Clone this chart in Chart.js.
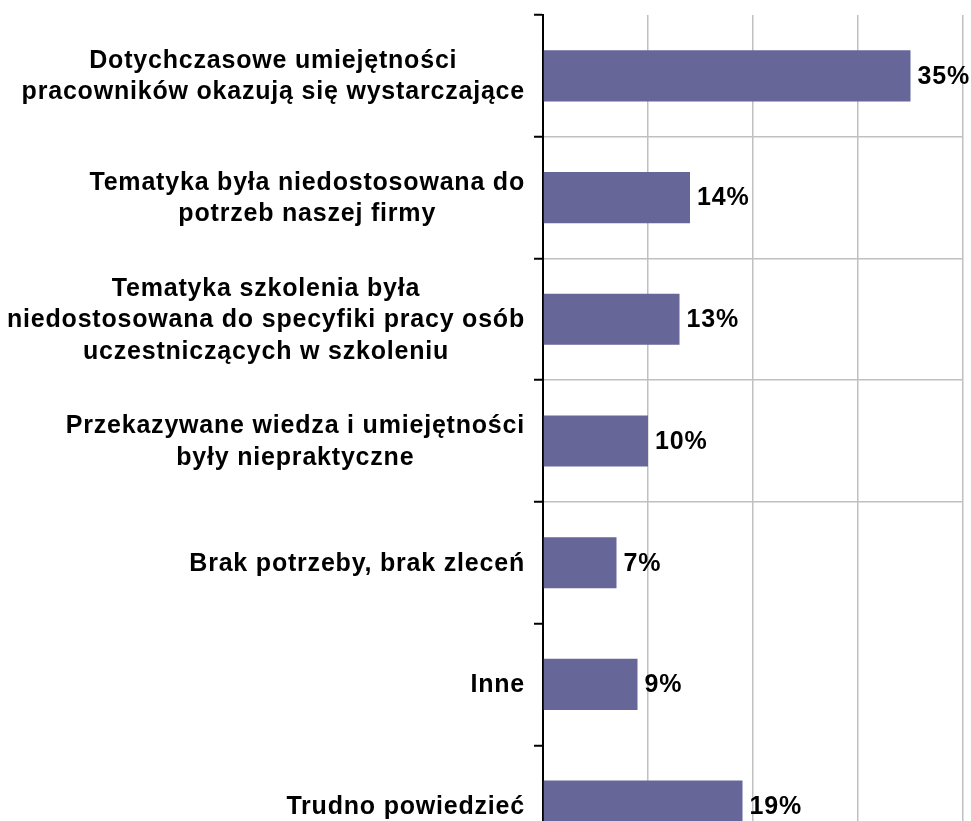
<!DOCTYPE html>
<html>
<head>
<meta charset="utf-8">
<script src="https://cdn.jsdelivr.net/npm/chart.js@4"></script>
<style>
  html, body { margin: 0; padding: 0; background: #fff; overflow: hidden; }
  canvas { display: block; }
</style>
</head>
<body>
<canvas id="chart" width="971" height="867"></canvas>
<script>
const categories = [
  ['Dotychczasowe umiejętności', 'pracowników okazują się wystarczające'],
  ['Tematyka była niedostosowana do', 'potrzeb naszej firmy'],
  ['Tematyka szkolenia była', 'niedostosowana do specyfiki pracy osób', 'uczestniczących w szkoleniu'],
  ['Przekazywane wiedza i umiejętności', 'były niepraktyczne'],
  ['Brak potrzeby, brak zleceń'],
  ['Inne'],
  ['Trudno powiedzieć']
];
const values = [35, 14, 13, 10, 7, 9, 19];
const xTicks = [0, 10, 20, 30, 40];

const FONT = 'bold 25px "Liberation Sans", Arial, sans-serif';
const SPACING = '0.8px';

// labels: lines centred on each other, block right-aligned to the axis
const categoryLabels = {
  id: 'categoryLabels',
  afterDraw(chart) {
    const ctx = chart.ctx;
    const y = chart.scales.y;
    const right = 525;
    const lineH = 31.5;
    ctx.save();
    ctx.font = FONT;
    ctx.fillStyle = '#000';
    ctx.textAlign = 'center';
    ctx.textBaseline = 'middle';
    if ('letterSpacing' in ctx) ctx.letterSpacing = SPACING;
    categories.forEach((lines, i) => {
      const cy = y.getPixelForTick(i);
      const w = Math.max(...lines.map(l => ctx.measureText(l).width));
      const cx = right - w / 2;
      lines.forEach((l, j) => {
        ctx.fillText(l, cx, cy + (j - (lines.length - 1) / 2) * lineH + 1);
      });
    });
    ctx.restore();
  }
};

const valueLabels = {
  id: 'valueLabels',
  afterDatasetsDraw(chart) {
    const ctx = chart.ctx;
    const meta = chart.getDatasetMeta(0);
    ctx.save();
    ctx.font = FONT;
    ctx.fillStyle = '#000';
    ctx.textAlign = 'left';
    ctx.textBaseline = 'middle';
    if ('letterSpacing' in ctx) ctx.letterSpacing = SPACING;
    meta.data.forEach((bar, i) => {
      ctx.fillText(values[i] + '%', bar.x + 7, bar.y + 1);
    });
    ctx.restore();
  }
};

new Chart(document.getElementById('chart'), {
  type: 'bar',
  data: {
    labels: categories,
    datasets: [{
      data: values,
      backgroundColor: '#666699',
      borderWidth: 0,
      barPercentage: 0.42,
      categoryPercentage: 1
    }]
  },
  options: {
    indexAxis: 'y',
    responsive: false,
    animation: false,
    layout: { padding: { top: 15, right: 8, bottom: 0, left: 0 } },
    plugins: {
      legend: { display: false },
      tooltip: { enabled: false }
    },
    scales: {
      x: {
        min: xTicks[0],
        max: xTicks[xTicks.length - 1],
        afterBuildTicks: scale => { scale.ticks = xTicks.map(v => ({ value: v })); },
        ticks: { display: false },
        grid: { color: '#c0c0c0', lineWidth: 1.5, drawTicks: false },
        border: { display: false },
        afterFit: scale => { scale.height = 0; }
      },
      y: {
        ticks: { display: false },
        grid: {
          offset: true,
          color: c => (c.index >= 1 && c.index <= 4) ? '#c0c0c0' : 'rgba(0,0,0,0)',
          lineWidth: 1.5,
          tickColor: '#000',
          tickLength: 9,
          tickWidth: 2
        },
        border: { color: '#000', width: 2 },
        afterFit: scale => { scale.width = 543; }
      }
    }
  },
  plugins: [categoryLabels, valueLabels]
});
</script>
</body>
</html>
